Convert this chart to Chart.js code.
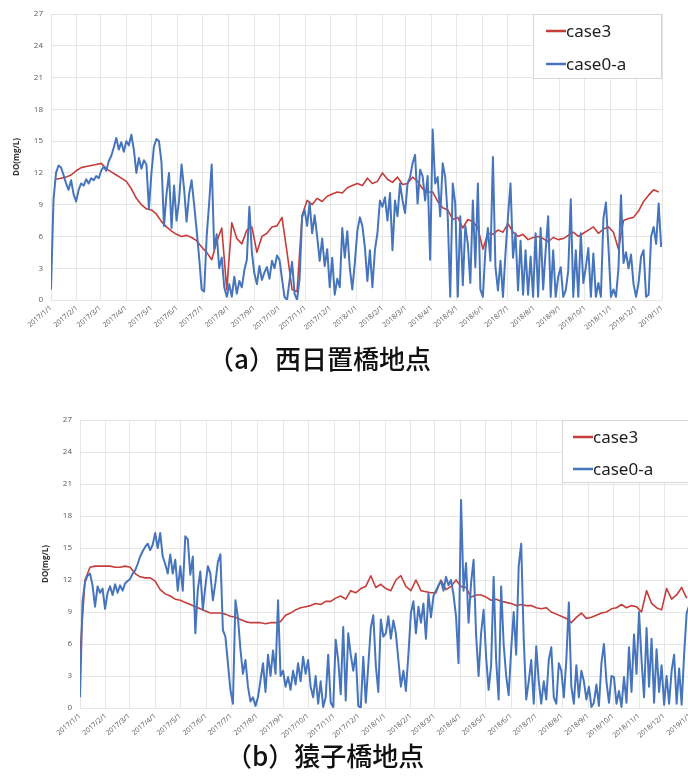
<!DOCTYPE html>
<html lang="ja">
<head>
<meta charset="utf-8">
<title>DO 経時変化</title>
<script src="https://cdn.jsdelivr.net/npm/chart.js@4.4.1/dist/chart.umd.min.js"></script>
<style>
  html, body { margin: 0; padding: 0; background: #fff; width: 688px; height: 776px; overflow: hidden; }
  #wrap { position: relative; width: 688px; height: 776px; overflow: hidden; }
  canvas { position: absolute; }
  #cA { left: 0; top: 0; }
  #cB { left: 0; top: 400px; }
  .cap { position: absolute; font-family: "Noto Sans CJK JP", sans-serif; font-size: 26px; font-weight: 500; line-height: 30px; color: #111; white-space: nowrap; }
  #capA { left: 208px; top: 343px; }
  #capB { left: 226px; top: 740px; }
</style>
</head>
<body>
<div id="wrap">
  <canvas id="cA" width="688" height="345"></canvas>
  <div class="cap" id="capA">（a）西日置橋地点</div>
  <canvas id="cB" width="720" height="350"></canvas>
  <div class="cap" id="capB">（b）猿子橋地点</div>
</div>
<script>
// Month tick labels along the time axis
const monthLabels = [
  '2017/1/1','2017/2/1','2017/3/1','2017/4/1','2017/5/1','2017/6/1','2017/7/1',
  '2017/8/1','2017/9/1','2017/10/1','2017/11/1','2017/12/1','2018/1/1',
  '2018/2/1','2018/3/1','2018/4/1','2018/5/1','2018/6/1','2018/7/1',
  '2018/8/1','2018/9/1','2018/10/1','2018/11/1','2018/12/1','2019/1/1'
];
const seriesNames = ['case3', 'case0-a'];

// sampling interval (days) of each series
const STEP_CASE3 = 6;
const STEP_CASE0A = 3;

// (a) 西日置橋地点 — case3, one value every 6 days from 2017/1/1
const nishiCase3 = [
  null, 11.4, 11.5, 11.6, 11.8, 12.2,
  12.5, 12.6, 12.7, 12.8,
  12.9, 12.4, 12.1, 11.8, 11.5,
  11.2, 10.5, 9.6, 9.0, 8.6,
  8.5, 8.1, 7.4, 6.9, 6.5, 6.2,
  6.0, 6.1, 5.9, 5.6, 5.0,
  4.5, 3.8, 5.5, 6.8, 1.0,
  7.3, 5.8, 5.3, 6.6, 6.9,
  4.5, 6.0, 6.3, 6.9, 7.0,
  7.8, 4.5, 1.0, 0.8, 8.0,
  9.4, 9.0, 9.6, 9.3, 9.8,
  10.0, 10.2, 10.1, 10.6, 10.8,
  11.0, 10.8, 11.5, 11.0, 11.2,
  12.0, 11.4, 11.1, 11.6, 10.9,
  11.0, 11.6, 11.2, 10.5, 10.2,
  10.2, 9.3, 8.7, 8.5, 7.6,
  7.8, 6.8, 7.6, 7.4, 6.8,
  4.8, 6.3, 6.2, 6.6, 6.4,
  7.2, 6.4, 6.0, 6.2, 5.7, 5.9,
  6.0, 5.8, 5.5, 5.9, 5.7,
  5.8, 6.1, 6.4, 6.0, 6.3,
  6.6, 6.9, 6.3, 6.7, 6.9,
  6.4, 4.8, 7.5, 7.7, 7.8,
  8.4, 9.3, 9.9, 10.4, 10.2
];

// (a) 西日置橋地点 — case0-a, one value every 3 days from 2017/1/1
const nishiCase0a = [
  1.0, 9.5, 12.0, 12.7, 12.5, 11.8, 11.0, 10.4, 11.3, 10.0, 9.3,
  10.4, 11.0, 10.8, 11.4, 11.0, 11.5, 11.3, 11.7, 11.5,
  12.2, 12.6, 12.2, 13.1, 13.6, 14.4, 15.3, 14.2, 14.9, 14.0,
  15.0, 14.6, 15.6, 14.2, 12.0, 13.4, 12.4, 13.2, 12.8, 8.6,
  12.0, 14.5, 15.2, 15.0, 13.0, 7.0, 10.0, 12.0, 6.8, 10.8, 7.5,
  9.4, 12.8, 10.5, 7.4, 10.0, 11.3, 9.0, 6.6, 4.0, 1.0,
  0.8, 6.0, 9.2, 12.8, 4.8, 6.2, 3.0, 4.0, 1.2, 0.3,
  1.5, 0.3, 2.2, 0.6, 1.8, 1.2, 2.8, 3.8, 8.8, 4.5,
  2.5, 1.5, 3.2, 1.9, 2.6, 3.1, 2.0, 3.7, 3.0, 4.2,
  3.8, 2.0, 0.3, 0.0, 1.8, 3.6, 0.6, 0.0, 2.0, 7.8, 8.5,
  7.0, 9.2, 6.3, 8.0, 6.0, 3.7, 5.8, 3.2, 4.8, 1.2,
  4.0, 0.5, 2.0, 1.2, 6.8, 4.0, 6.5, 3.0, 1.0, 3.5,
  6.5, 7.8, 7.0, 5.0, 1.8, 4.7, 1.2, 4.7, 6.3, 9.4,
  8.8, 9.7, 7.5, 10.1, 4.7, 9.4, 7.9, 11.0, 9.4, 8.2,
  11.0, 11.6, 12.9, 13.7, 9.1, 12.3, 11.7, 9.4, 11.7, 3.8,
  16.1, 11.0, 11.6, 7.9, 12.9, 11.6, 7.9, 0.3, 11.0, 9.1,
  0.3, 7.9, 1.4, 7.0, 5.3, 1.6, 9.4, 3.1, 11.0, 1.0,
  0.3, 4.7, 6.8, 3.7, 13.5, 3.1, 0.9, 3.7, 0.3, 4.4,
  7.9, 11.0, 4.0, 6.3, 0.9, 5.6, 0.5, 4.7, 0.5, 4.1, 0.3,
  6.3, 0.3, 6.8, 1.0, 4.7, 7.9, 0.3, 4.7, 0.3, 2.2,
  3.1, 0.3, 0.9, 2.8, 9.5, 0.3, 4.7, 0.3, 6.3, 1.6,
  3.1, 4.9, 0.3, 4.4, 0.3, 1.6, 0.3, 7.7, 9.2, 5.0,
  0.3, 1.0, 0.3, 3.0, 9.9, 3.5, 4.5, 3.0, 4.3, 1.5,
  0.3, 1.6, 4.1, 4.7, 0.3, 0.5, 6.0, 6.9, 5.3, 9.1, 5.0
];

// (b) 猿子橋地点 — case3, one value every 6 days from 2017/1/1
const saruCase3 = [
  5.0, 12.0, 13.2, 13.3, 13.3, 13.3,
  13.3, 13.2, 13.2, 13.3,
  13.2, 12.6, 12.3, 12.2, 12.2,
  11.9, 11.1, 10.7, 10.5, 10.2,
  10.1, 9.9, 9.7, 9.5, 9.3, 9.1,
  8.9, 8.9, 8.9, 8.8, 8.6,
  8.5, 8.3, 8.1, 8.0, 8.0,
  8.0, 7.9, 8.0, 8.0, 8.1,
  8.7, 8.9, 9.2, 9.4, 9.5,
  9.6, 9.8, 9.7, 10.0, 10.0,
  10.3, 10.5, 10.2, 11.0, 10.8,
  11.2, 11.4, 12.4, 11.3, 11.6,
  11.2, 11.0, 12.0, 12.4, 11.4,
  11.0, 12.0, 11.0, 10.9, 10.8,
  10.8, 12.0, 11.1, 11.4, 12.0,
  11.4, 11.3, 10.4, 10.6, 10.6,
  10.4, 10.1, 10.2, 10.0, 9.9,
  9.8, 9.6, 9.7, 9.6, 9.6,
  9.4, 9.3, 9.4, 9.0, 8.8, 8.6,
  8.4, 8.0, 8.5, 8.9, 8.4,
  8.5, 8.7, 8.9, 9.0, 9.3,
  9.4, 9.7, 9.4, 9.6, 9.5,
  9.0, 11.0, 9.8, 9.4, 9.2,
  11.2, 10.2, 10.6, 11.3, 10.3
];

// (b) 猿子橋地点 — case0-a, one value every 3 days from 2017/1/1
const saruCase0a = [
  1.0, 10.0, 11.8, 12.4, 12.6, 11.5, 9.5, 11.4, 10.8, 11.2, 9.3,
  10.8, 11.4, 10.6, 11.6, 10.8, 11.5, 11.0, 11.7, 11.9,
  12.1, 12.6, 12.9, 13.5, 14.2, 14.7, 15.1, 15.4, 14.8, 15.3,
  16.4, 15.0, 16.4, 14.2, 13.5, 12.6, 14.4, 12.6, 13.9, 11.0,
  13.3, 11.0, 16.1, 15.8, 12.5, 14.2, 7.0, 11.1, 12.8, 9.2, 11.4,
  13.3, 12.6, 10.1, 11.7, 13.7, 14.4, 7.3, 6.7, 4.2, 1.7,
  0.4, 10.1, 8.5, 5.5, 3.2, 4.5, 2.0, 0.6, 1.0, 0.2,
  1.0, 2.6, 4.2, 1.5, 5.0, 3.0, 5.4, 3.2, 10.1, 3.0,
  3.5, 2.0, 2.9, 1.7, 3.5, 2.2, 4.2, 2.5, 4.8, 3.2,
  4.5, 2.0, 1.0, 3.0, 0.4, 2.5, 0.1, 1.0, 5.0, 0.5, 0.1,
  6.4, 4.5, 1.3, 7.6, 0.7, 7.0, 5.0, 3.5, 5.1, 0.2,
  0.0, 4.8, 0.5, 4.0, 7.5, 8.7, 4.0, 1.5, 8.3, 6.7,
  7.0, 8.6, 6.5, 8.2, 7.0, 4.5, 2.0, 3.5, 1.6, 5.0,
  8.9, 10.0, 7.0, 9.5, 8.0, 9.8, 6.5, 10.7, 8.5, 10.5,
  11.0, 11.5, 11.9, 11.0, 12.3, 11.5, 12.0, 10.6, 8.6, 4.2,
  19.5, 11.0, 13.6, 8.0, 11.7, 13.9, 6.9, 3.0, 7.0, 9.2,
  4.8, 1.7, 4.0, 12.3, 4.5, 0.8, 11.4, 6.0, 3.0, 1.2,
  5.5, 9.0, 5.0, 13.3, 15.4, 6.5, 0.8, 2.5, 4.5, 0.4,
  5.8, 2.5, 0.4, 2.5, 0.8, 4.5, 5.7, 1.0, 0.4, 4.2, 3.5,
  1.0, 4.5, 9.9, 2.0, 0.4, 4.0, 1.0, 3.5, 2.5, 0.8,
  2.0, 0.1, 0.5, 2.2, 0.2, 4.2, 6.0, 2.5, 0.5, 3.0,
  2.9, 0.4, 1.6, 0.1, 2.9, 0.5, 5.7, 1.5, 6.9, 3.2,
  9.0, 4.5, 1.0, 7.5, 2.0, 6.5, 0.5, 5.5, 1.5, 4.0,
  0.3, 3.0, 0.4, 3.5, 5.0, 0.4, 3.7, 0.3, 5.1, 8.9, 9.6
];

const RED = '#c53d3a';
const BLUE = '#4675bd';
const GRID = '#e6e6e6';
const TICK = '#595959';

// day offset of each month label from 2017/1/1
const DAY0 = Date.UTC(2017, 0, 1);
const tickDays = monthLabels.map(s => {
  const [y, m, d] = s.split('/').map(Number);
  return (Date.UTC(y, m - 1, d) - DAY0) / 86400000;
});

const toPoints = (vals, step) => vals.map((v, i) => ({ x: i * step, y: v }));

// legend drawn as a framed box in the upper-right corner of the plot
const boxLegend = {
  id: 'boxLegend',
  afterDraw(chart, args, o) {
    const { ctx, chartArea } = chart;
    const x = chartArea.right - o.width;
    const y = chartArea.top;
    ctx.save();
    ctx.fillStyle = '#fff';
    ctx.fillRect(x, y, o.width, o.height);
    ctx.strokeStyle = '#d6d6d6';
    ctx.lineWidth = 1;
    ctx.strokeRect(Math.round(x) + 0.5, Math.round(y) + 0.5, o.width - 1, o.height - 1);
    ctx.font = '17px "Noto Sans", sans-serif';
    ctx.textBaseline = 'middle';
    chart.data.datasets.forEach((ds, i) => {
      const cy = y + o.rowTop + i * o.rowGap;
      ctx.strokeStyle = ds.borderColor;
      ctx.lineWidth = 2.5;
      ctx.beginPath();
      ctx.moveTo(x + o.sampleX, cy);
      ctx.lineTo(x + o.sampleX + 20, cy);
      ctx.stroke();
      ctx.fillStyle = '#1e1e1e';
      ctx.fillText(ds.label, x + o.sampleX + 20, cy + 1);
    });
    ctx.restore();
  }
};

function makeChart(canvas, red, blue, g) {
  return new Chart(canvas, {
    type: 'line',
    data: {
      datasets: [
        { label: seriesNames[0], data: toPoints(red, STEP_CASE3), borderColor: RED, borderWidth: 1.6, order: 2 },
        { label: seriesNames[1], data: toPoints(blue, STEP_CASE0A), borderColor: BLUE, borderWidth: 2, order: 1 }
      ]
    },
    options: {
      responsive: false,
      animation: false,
      devicePixelRatio: 1,
      layout: { padding: { top: g.top, right: g.right, left: 0, bottom: 0 } },
      elements: {
        point: { radius: 0 },
        line: { tension: 0, borderJoinStyle: 'round', fill: false }
      },
      plugins: {
        legend: { display: false },
        tooltip: { enabled: false },
        boxLegend: g.legend
      },
      scales: {
        x: {
          type: 'linear',
          min: 0,
          max: tickDays[tickDays.length - 1],
          afterBuildTicks: s => { s.ticks = tickDays.map(v => ({ value: v })); },
          afterFit: s => { s.height = g.xh; },
          grid: { color: GRID, drawTicks: false },
          border: { display: false },
          ticks: {
            autoSkip: false,
            minRotation: 40,
            maxRotation: 40,
            padding: 4,
            color: TICK,
            font: { family: 'Open Sans', size: 7 },
            callback: (v, i) => monthLabels[i]
          }
        },
        y: {
          min: 0,
          max: 27,
          afterFit: s => { s.width = g.yw; },
          grid: { color: GRID, drawTicks: false },
          border: { display: false },
          ticks: { stepSize: 3, padding: 8, color: TICK, font: { family: 'Open Sans', size: 8 } },
          title: {
            display: true,
            text: 'DO(mg/L)',
            color: '#333',
            font: { family: 'Open Sans', size: 8, weight: 'bold' },
            padding: { top: g.titlePad, bottom: 0 }
          }
        }
      }
    },
    plugins: [boxLegend]
  });
}

makeChart(document.getElementById('cA'), nishiCase3, nishiCase0a, {
  top: 14, right: 26, xh: 45, yw: 51, titlePad: 12,
  legend: { width: 129, height: 65, rowTop: 17, rowGap: 33, sampleX: 13 }
});

makeChart(document.getElementById('cB'), saruCase3, saruCase0a, {
  top: 20, right: 30, xh: 42, yw: 80, titlePad: 41,
  legend: { width: 128, height: 63, rowTop: 17, rowGap: 32, sampleX: 11 }
});
</script>
</body>
</html>
